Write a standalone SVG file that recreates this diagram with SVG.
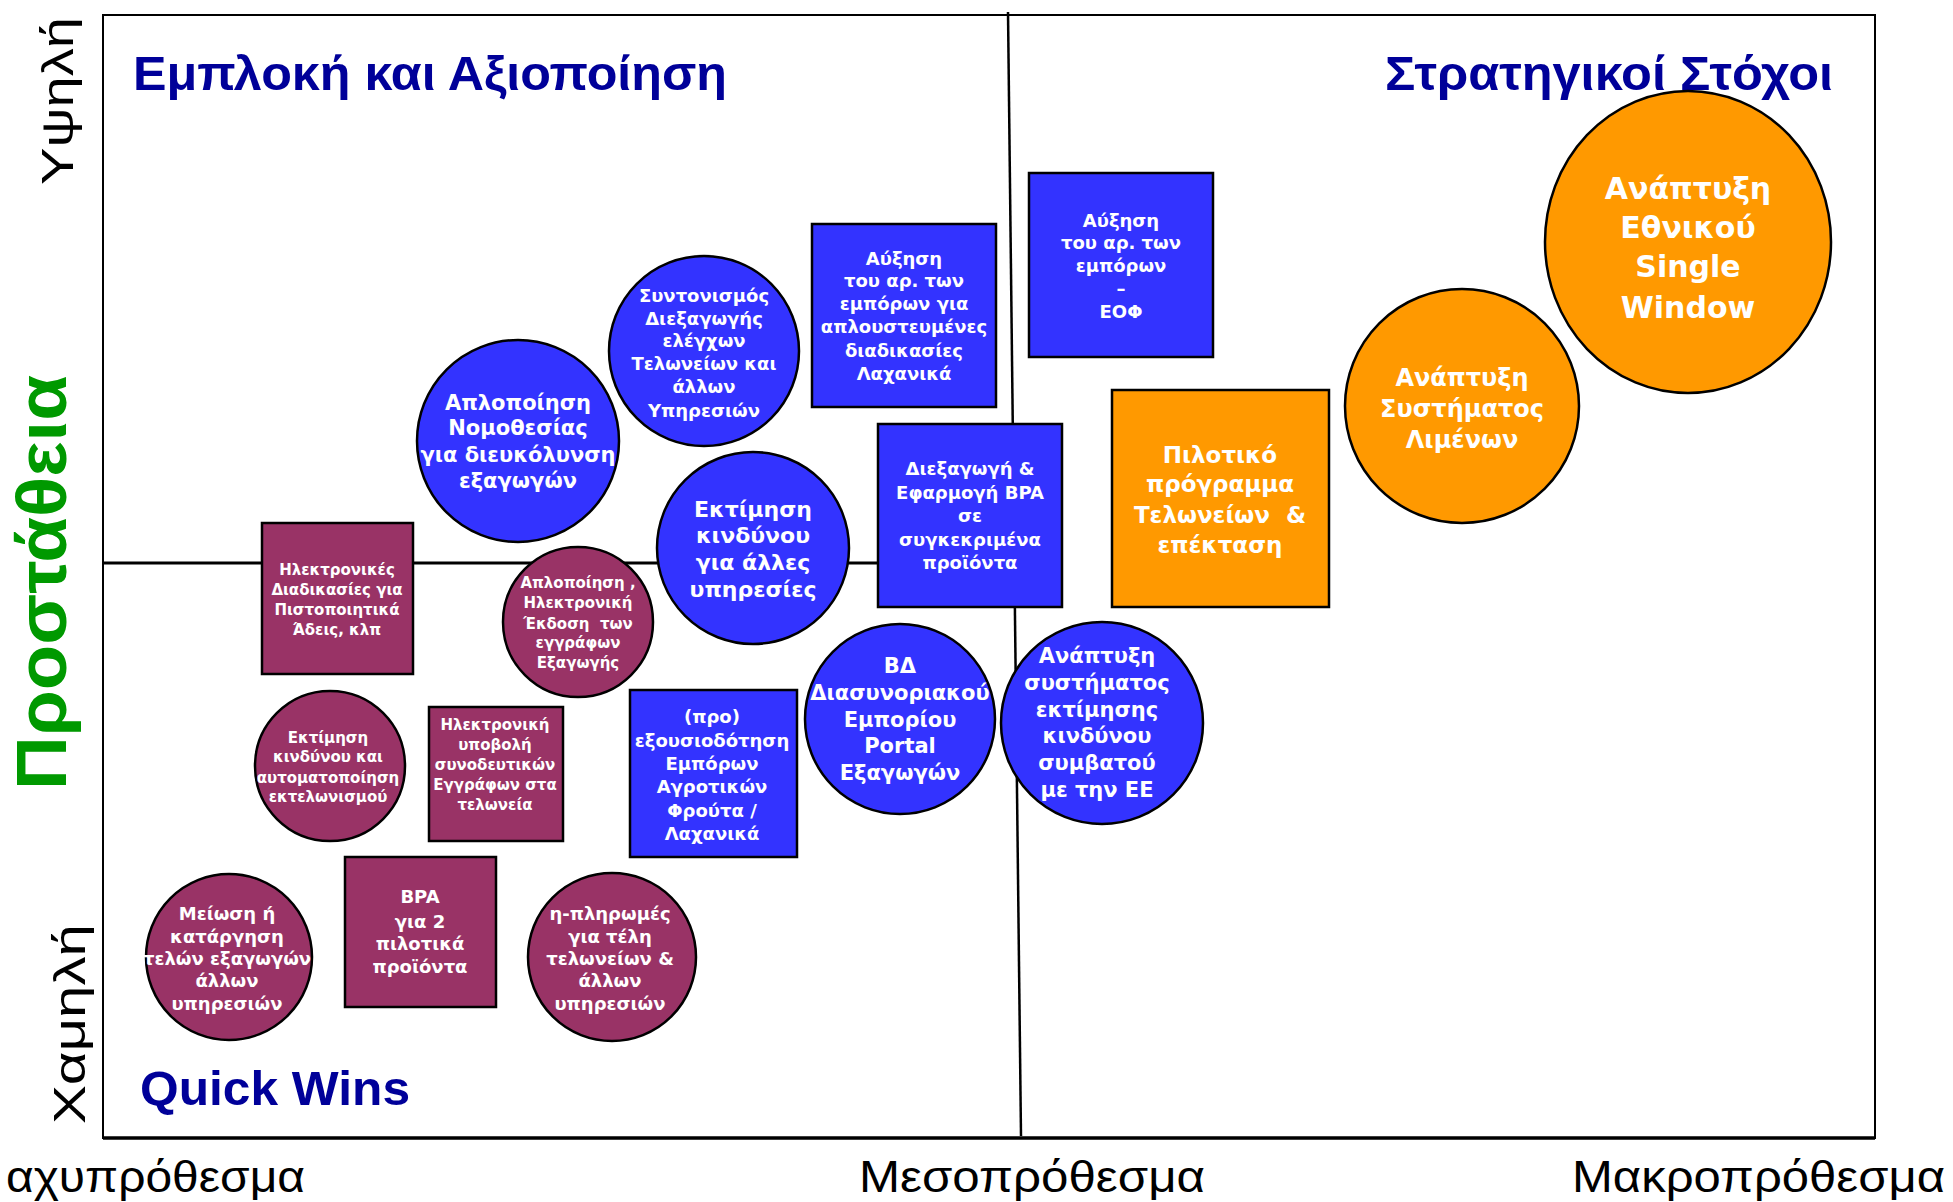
<svg xmlns="http://www.w3.org/2000/svg" width="1953" height="1202" viewBox="0 0 1953 1202">
<style>
.b{fill:#3333FF;stroke:#000;stroke-width:2.5}
.m{fill:#993366;stroke:#000;stroke-width:2.5}
.o{fill:#FF9900;stroke:#000;stroke-width:2.5}
.t{fill:#fff;font-family:"DejaVu Sans","Liberation Sans",sans-serif;font-weight:bold;text-anchor:middle}
.ttl{fill:#000099;font-family:"Liberation Sans",Arial,sans-serif;font-weight:bold;font-size:49px}
.ax{fill:#000;font-family:"Liberation Sans",Arial,sans-serif;font-weight:normal}
.ln{stroke:#000;fill:none}
</style>
<rect width="1953" height="1202" fill="#fff"/>
<g id="frame">
<rect x="103" y="15" width="1772" height="1123" class="ln" stroke-width="2"/>
<line x1="103" y1="1138" x2="1875" y2="1138" class="ln" stroke-width="3.5"/>
</g>
<g id="connectors">
<line x1="103" y1="563" x2="880" y2="563" class="ln" stroke-width="3"/>
<line x1="1008" y1="12" x2="1021" y2="1136" class="ln" stroke-width="2.5"/>
</g>
<g id="labels">
<text class="ttl" x="133" y="90" textLength="594" lengthAdjust="spacingAndGlyphs">Εμπλοκή και Αξιοποίηση</text>
<text class="ttl" x="1385" y="90" textLength="448" lengthAdjust="spacingAndGlyphs">Στρατηγικοί Στόχοι</text>
<text class="ttl" x="140" y="1105" textLength="270" lengthAdjust="spacingAndGlyphs">Quick Wins</text>
<text class="ax" x="6" y="1192" font-size="45" textLength="299" lengthAdjust="spacingAndGlyphs">αχυπρόθεσμα</text>
<text class="ax" x="859" y="1192" font-size="45" textLength="346" lengthAdjust="spacingAndGlyphs">Μεσοπρόθεσμα</text>
<text class="ax" x="1572" y="1192" font-size="45" textLength="373" lengthAdjust="spacingAndGlyphs">Μακροπρόθεσμα</text>
<text class="ax" transform="translate(73,185) rotate(-90)" font-size="44" textLength="168" lengthAdjust="spacingAndGlyphs">Υψηλή</text>
<text class="ax" transform="translate(85,1124) rotate(-90)" font-size="44" textLength="200" lengthAdjust="spacingAndGlyphs">Χαμηλή</text>
<text transform="translate(66,790) rotate(-90)" font-family="Liberation Sans, Arial, sans-serif" font-weight="bold" font-size="71" fill="#009900" textLength="415" lengthAdjust="spacingAndGlyphs">Προστάθεια</text>
</g>
<g id="n-single-window">
<ellipse class="o" cx="1688" cy="242" rx="143" ry="151"/>
<text class="t" font-size="30"><tspan x="1688" y="199">Ανάπτυξη</tspan><tspan x="1688" y="238">Εθνικού</tspan><tspan x="1688" y="277">Single</tspan><tspan x="1688" y="318">Window</tspan></text>
</g>
<g id="n-limenon">
<ellipse class="o" cx="1462" cy="406" rx="117" ry="117"/>
<text class="t" font-size="24"><tspan x="1462" y="386">Ανάπτυξη</tspan><tspan x="1462" y="417">Συστήματος</tspan><tspan x="1462" y="448">Λιμένων</tspan></text>
</g>
<g id="n-pilotiko">
<rect class="o" x="1112" y="390" width="217" height="217"/>
<text class="t" font-size="23"><tspan x="1220" y="463">Πιλοτικό</tspan><tspan x="1220" y="492">πρόγραμμα</tspan><tspan x="1220" y="523">Τελωνείων &#160;&amp;</tspan><tspan x="1220" y="553">επέκταση</tspan></text>
</g>
<g id="n-eof">
<rect class="b" x="1029" y="173" width="184" height="184"/>
<text class="t" font-size="18"><tspan x="1121" y="227">Αύξηση</tspan><tspan x="1121" y="249">του αρ. των</tspan><tspan x="1121" y="272">εμπόρων</tspan><tspan x="1121" y="295">–</tspan><tspan x="1121" y="318">ΕΟΦ</tspan></text>
</g>
<g id="n-lachanika">
<rect class="b" x="812" y="224" width="184" height="183"/>
<text class="t" font-size="18"><tspan x="904" y="265">Αύξηση</tspan><tspan x="904" y="287">του αρ. των</tspan><tspan x="904" y="310">εμπόρων για</tspan><tspan x="904" y="333">απλουστευμένες</tspan><tspan x="904" y="357">διαδικασίες</tspan><tspan x="904" y="380">Λαχανικά</tspan></text>
</g>
<g id="n-bpa-proionta">
<rect class="b" x="878" y="424" width="184" height="183"/>
<text class="t" font-size="18"><tspan x="970" y="475">Διεξαγωγή &amp;</tspan><tspan x="970" y="499">Εφαρμογή BPA</tspan><tspan x="970" y="522">σε</tspan><tspan x="970" y="546">συγκεκριμένα</tspan><tspan x="970" y="569">προϊόντα</tspan></text>
</g>
<g id="n-syntonismos">
<ellipse class="b" cx="704" cy="351" rx="95" ry="95"/>
<text class="t" font-size="18"><tspan x="704" y="302">Συντονισμός</tspan><tspan x="704" y="325">Διεξαγωγής</tspan><tspan x="704" y="347">ελέγχων</tspan><tspan x="704" y="370">Τελωνείων και</tspan><tspan x="704" y="393">άλλων</tspan><tspan x="704" y="417">Υπηρεσιών</tspan></text>
</g>
<g id="n-nomothesia">
<ellipse class="b" cx="518" cy="441" rx="101" ry="101"/>
<text class="t" font-size="21"><tspan x="518" y="410">Απλοποίηση</tspan><tspan x="518" y="435">Νομοθεσίας</tspan><tspan x="518" y="462">για διευκόλυνση</tspan><tspan x="518" y="488">εξαγωγών</tspan></text>
</g>
<g id="n-ektimisi-alles">
<ellipse class="b" cx="753" cy="548" rx="96" ry="96"/>
<text class="t" font-size="22"><tspan x="753" y="517">Εκτίμηση</tspan><tspan x="753" y="543">κινδύνου</tspan><tspan x="753" y="570">για άλλες</tspan><tspan x="753" y="597">υπηρεσίες</tspan></text>
</g>
<g id="n-ekdosi">
<ellipse class="m" cx="578" cy="622" rx="75" ry="75"/>
<text class="t" font-size="15"><tspan x="578" y="588">Απλοποίηση ,</tspan><tspan x="578" y="608">Ηλεκτρονική</tspan><tspan x="578" y="629">Έκδοση &#160;των</tspan><tspan x="578" y="648">εγγράφων</tspan><tspan x="578" y="668">Εξαγωγής</tspan></text>
</g>
<g id="n-pistopoiitika">
<rect class="m" x="262" y="523" width="151" height="151"/>
<text class="t" font-size="15"><tspan x="337" y="575">Ηλεκτρονικές</tspan><tspan x="337" y="595">Διαδικασίες για</tspan><tspan x="337" y="615">Πιστοποιητικά</tspan><tspan x="337" y="635">Άδεις, κλπ</tspan></text>
</g>
<g id="n-ektelonismos">
<ellipse class="m" cx="330" cy="766" rx="75" ry="75"/>
<text class="t" font-size="15"><tspan x="328" y="743">Εκτίμηση</tspan><tspan x="328" y="762">κινδύνου και</tspan><tspan x="328" y="783">αυτοματοποίηση</tspan><tspan x="328" y="802">εκτελωνισμού</tspan></text>
</g>
<g id="n-synodeftika">
<rect class="m" x="429" y="707" width="134" height="134"/>
<text class="t" font-size="15"><tspan x="495" y="730">Ηλεκτρονική</tspan><tspan x="495" y="750">υποβολή</tspan><tspan x="495" y="770">συνοδευτικών</tspan><tspan x="495" y="790">Εγγράφων στα</tspan><tspan x="495" y="810">τελωνεία</tspan></text>
</g>
<g id="n-exousiodotisi">
<rect class="b" x="630" y="690" width="167" height="167"/>
<text class="t" font-size="18"><tspan x="712" y="723">(προ)</tspan><tspan x="712" y="747">εξουσιοδότηση</tspan><tspan x="712" y="770">Εμπόρων</tspan><tspan x="712" y="793">Αγροτικών</tspan><tspan x="712" y="817">Φρούτα /</tspan><tspan x="712" y="840">Λαχανικά</tspan></text>
</g>
<g id="n-portal">
<ellipse class="b" cx="900" cy="719" rx="95" ry="95"/>
<text class="t" font-size="21"><tspan x="900" y="673">ΒΔ</tspan><tspan x="900" y="700">Διασυνοριακού</tspan><tspan x="900" y="727">Εμπορίου</tspan><tspan x="900" y="753">Portal</tspan><tspan x="900" y="780">Εξαγωγών</tspan></text>
</g>
<g id="n-ektimisi-ee">
<ellipse class="b" cx="1102" cy="723" rx="101" ry="101"/>
<text class="t" font-size="21"><tspan x="1097" y="663">Ανάπτυξη</tspan><tspan x="1097" y="690">συστήματος</tspan><tspan x="1097" y="717">εκτίμησης</tspan><tspan x="1097" y="743">κινδύνου</tspan><tspan x="1097" y="770">συμβατού</tspan><tspan x="1097" y="797">με την ΕΕ</tspan></text>
</g>
<g id="n-meiosi">
<ellipse class="m" cx="229" cy="957" rx="83" ry="83"/>
<text class="t" font-size="18"><tspan x="227" y="920">Μείωση ή</tspan><tspan x="227" y="943">κατάργηση</tspan><tspan x="227" y="965">τελών εξαγωγών</tspan><tspan x="227" y="987">άλλων</tspan><tspan x="227" y="1010">υπηρεσιών</tspan></text>
</g>
<g id="n-bpa-2">
<rect class="m" x="345" y="857" width="151" height="150"/>
<text class="t" font-size="18"><tspan x="420" y="903">BPA</tspan><tspan x="420" y="928">για 2</tspan><tspan x="420" y="950">πιλοτικά</tspan><tspan x="420" y="973">προϊόντα</tspan></text>
</g>
<g id="n-plirwmes">
<ellipse class="m" cx="612" cy="957" rx="84" ry="84"/>
<text class="t" font-size="18"><tspan x="610" y="920">η-πληρωμές</tspan><tspan x="610" y="943">για τέλη</tspan><tspan x="610" y="965">τελωνείων &amp;</tspan><tspan x="610" y="987">άλλων</tspan><tspan x="610" y="1010">υπηρεσιών</tspan></text>
</g>
</svg>
